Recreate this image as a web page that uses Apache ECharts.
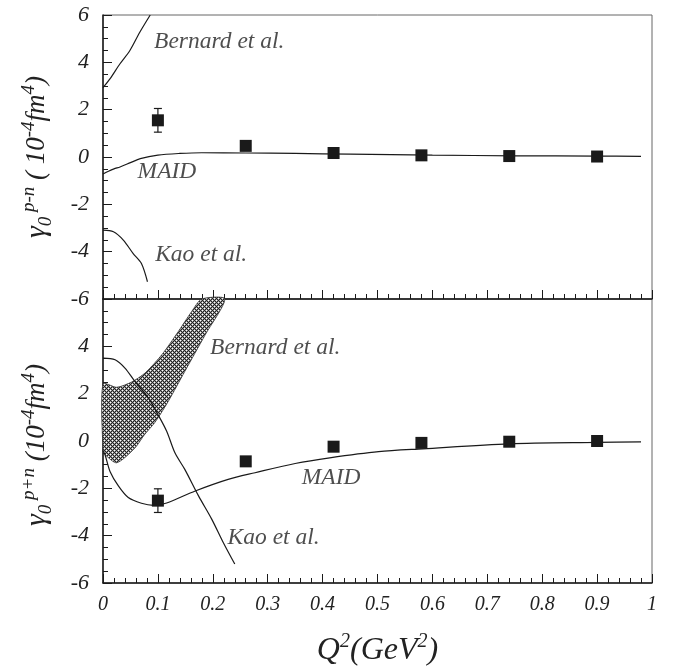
<!DOCTYPE html>
<html>
<head>
<meta charset="utf-8">
<script src="https://cdn.jsdelivr.net/npm/echarts@6/dist/echarts.min.js"></script>
<style>
  html, body { margin: 0; padding: 0; background: #fff; }
  #chart { width: 678px; height: 668px; }
</style>
</head>
<body>
<div id="chart"></div>
<script>
// x axis tick labels
const xTickLabels = ['0', '0.1', '0.2', '0.3', '0.4', '0.5', '0.6', '0.7', '0.8', '0.9', '1'];

// measured points (same Q2 for both panels)
const dataQ2 = [0.1, 0.26, 0.42, 0.58, 0.74, 0.9];
const pnValues = [1.55, 0.47, 0.17, 0.07, 0.04, 0.02];
const pnErrors = [0.5, 0.1, 0.08, 0.08, 0.08, 0.08];
const ppnValues = [-2.52, -0.86, -0.24, -0.08, -0.03, 0.0];
const ppnErrors = [0.5, 0.1, 0.08, 0.08, 0.08, 0.08];

// top panel curves (gamma0 p-n)
const maidPnQ2 = [0, 0.01, 0.02, 0.031, 0.05, 0.068, 0.1, 0.14, 0.18, 0.26, 0.35, 0.45, 0.6, 0.75, 0.9, 0.98];
const maidPnVal = [-0.72, -0.6, -0.5, -0.42, -0.24, -0.07, 0.08, 0.15, 0.18, 0.17, 0.15, 0.12, 0.08, 0.05, 0.04, 0.03];
const bernardPnQ2 = [0, 0.013, 0.031, 0.049, 0.067, 0.086];
const bernardPnVal = [2.93, 3.31, 3.94, 4.5, 5.27, 6.0];
const kaoPnQ2 = [0, 0.019, 0.037, 0.055, 0.07, 0.081];
const kaoPnVal = [-3.09, -3.16, -3.51, -4.08, -4.5, -5.27];

// bottom panel curves (gamma0 p+n)
const maidPpnQ2 = [0, 0.004, 0.013, 0.028, 0.046, 0.07, 0.092, 0.116, 0.168, 0.228, 0.277, 0.35, 0.413, 0.502, 0.583, 0.74, 0.9, 0.98];
const maidPpnVal = [-0.4, -0.6, -1.3, -1.9, -2.39, -2.63, -2.72, -2.62, -2.11, -1.62, -1.34, -0.95, -0.71, -0.45, -0.33, -0.12, -0.06, -0.04];
const kaoPpnQ2 = [0, 0.022, 0.04, 0.058, 0.0825, 0.1, 0.116, 0.131, 0.149, 0.174, 0.198, 0.219, 0.24];
const kaoPpnVal = [3.5, 3.43, 3.08, 2.52, 1.82, 1.12, 0.41, -0.5, -1.2, -2.32, -3.3, -4.29, -5.2];
// Bernard et al. band (upper and lower edges)
const bandUpQ2 = [0, 0.025, 0.052, 0.0765, 0.107, 0.137, 0.1615, 0.18];
const bandUpVal = [2.41, 2.27, 2.49, 2.87, 3.64, 4.62, 5.47, 6.0];
const bandLoQ2 = [0, 0.0036, 0.025, 0.058, 0.075, 0.095, 0.119, 0.149, 0.186, 0.222];
const bandLoVal = [-0.4, -0.57, -0.92, -0.3, 0.25, 0.8, 1.68, 2.94, 4.48, 6.0];

// curve labels: [Q2, value, text]
const topLabels = [[0.093, 4.85, 'Bernard et al.'], [0.063, -0.63, 'MAID'], [0.095, -4.15, 'Kao et al.']];
const bottomLabels = [[0.195, 3.92, 'Bernard et al.'], [0.362, -1.57, 'MAID'], [0.227, -4.08, 'Kao et al.']];

const ink = '#1a1a1a';
const serif = 'Liberation Serif';

const chart = echarts.init(document.getElementById('chart'));

// cross-hatch pattern for the band (diamond net, 4px cell)
const hatch = document.createElement('canvas');
hatch.width = 4;
hatch.height = 4;
const hctx = hatch.getContext('2d');
const img = hctx.createImageData(4, 4);
for (let y = 0; y < 4; y++) {
  for (let x = 0; x < 4; x++) {
    let v = 34;
    if ((x === 0 && y === 0) || (x === 2 && y === 2)) v = 255;
    else if ((x + y) % 2 === 1) v = 150;
    const k = (y * 4 + x) * 4;
    img.data[k] = img.data[k + 1] = img.data[k + 2] = v;
    img.data[k + 3] = 255;
  }
}
hctx.putImageData(img, 0, 0);

const zip = (xs, ys) => xs.map((x, i) => [x, ys[i]]);

const txt = (size, extra) => Object.assign({ fontFamily: serif, fontStyle: 'italic', fontSize: size, color: '#222' }, extra || {});

function xAxisFor(gridIndex, showLabels) {
  return {
    type: 'value', gridIndex: gridIndex, min: 0, max: 1, interval: 0.1,
    axisLine: { show: true, onZero: false, lineStyle: { color: ink, width: 1.5 } },
    axisTick: { show: true, inside: true, length: 9, lineStyle: { color: ink, width: 1 } },
    minorTick: { show: true, splitNumber: 5, length: 5, lineStyle: { color: ink, width: 1 } },
    splitLine: { show: false },
    axisLabel: Object.assign(txt(20), {
      show: showLabels, margin: 12,
      formatter: (v) => xTickLabels[Math.round(v * 10)]
    }),
    name: showLabels ? '{b|Q}{sup|2}{b|(GeV}{sup|2}{b|)}' : '',
    nameLocation: 'middle', nameGap: 49,
    nameTextStyle: {
      rich: {
        b: txt(32, { lineHeight: 38 }),
        sup: txt(20, { lineHeight: 20, verticalAlign: 'top' })
      }
    }
  };
}

function yAxisFor(gridIndex, nameStr, showMax, pad) {
  return {
    type: 'value', gridIndex: gridIndex, min: -6, max: 6, interval: 2,
    axisLine: { show: true, onZero: false, lineStyle: { color: ink, width: 1.5 } },
    axisTick: { show: true, inside: true, length: 9, lineStyle: { color: ink, width: 1 } },
    minorTick: { show: true, splitNumber: 4, length: 5, lineStyle: { color: ink, width: 1 } },
    splitLine: { show: false },
    axisLabel: Object.assign(txt(22), { margin: 14, showMaxLabel: showMax }),
    name: nameStr,
    nameLocation: 'middle', nameGap: 48,
    nameTextStyle: {
      padding: pad,
      rich: {
        g: txt(30, { lineHeight: 36 }),
        b: txt(27, { lineHeight: 36 }),
        sup: txt(19, { lineHeight: 18, verticalAlign: 'top' }),
        sub: txt(19, { lineHeight: 18, verticalAlign: 'bottom' })
      }
    }
  };
}

function curve(name, xs, ys, idx) {
  return {
    name: name, type: 'line', xAxisIndex: idx, yAxisIndex: idx,
    data: zip(xs, ys), showSymbol: false, smooth: 0.3, clip: true,
    lineStyle: { color: ink, width: 1.2 }, z: 3, silent: true
  };
}

function points(xs, ys, idx) {
  return {
    type: 'scatter', xAxisIndex: idx, yAxisIndex: idx,
    data: zip(xs, ys), symbol: 'rect', symbolSize: 12,
    itemStyle: { color: ink, opacity: 1 }, z: 5
  };
}

function errorBars(xs, ys, errs, idx) {
  return {
    type: 'custom', xAxisIndex: idx, yAxisIndex: idx, z: 4,
    data: xs.map((x, i) => [x, ys[i] - errs[i], ys[i] + errs[i]]),
    renderItem: function (params, api) {
      const lo = api.coord([api.value(0), api.value(1)]);
      const hi = api.coord([api.value(0), api.value(2)]);
      const cap = 4;
      const st = { stroke: ink, lineWidth: 1.2 };
      return {
        type: 'group',
        children: [
          { type: 'line', shape: { x1: lo[0], y1: lo[1], x2: hi[0], y2: hi[1] }, style: st },
          { type: 'line', shape: { x1: lo[0] - cap, y1: lo[1], x2: lo[0] + cap, y2: lo[1] }, style: st },
          { type: 'line', shape: { x1: hi[0] - cap, y1: hi[1], x2: hi[0] + cap, y2: hi[1] }, style: st }
        ]
      };
    }
  };
}

function textLabels(list, idx) {
  return {
    type: 'scatter', xAxisIndex: idx, yAxisIndex: idx, symbolSize: 0, z: 6, silent: true,
    data: list.map(d => ({ value: [d[0], d[1]], label: { formatter: d[2] } })),
    label: Object.assign(txt(23.5), { show: true, position: 'right', distance: 0 })
  };
}

const bandSeries = {
  type: 'custom', xAxisIndex: 1, yAxisIndex: 1, z: 2, silent: true,
  data: [[0, 0]],
  renderItem: function (params, api) {
    const pts = [];
    bandUpQ2.forEach((q, i) => pts.push(api.coord([q, bandUpVal[i]])));
    for (let i = bandLoQ2.length - 1; i >= 0; i--) pts.push(api.coord([bandLoQ2[i], bandLoVal[i]]));
    return {
      type: 'polygon',
      shape: { points: pts, smooth: 0.25 },
      style: { fill: { image: hatch, repeat: 'repeat' }, stroke: '#333', lineWidth: 0.8 }
    };
  }
};

const option = {
  animation: false,
  backgroundColor: '#fff',
  grid: [
    { left: 103, top: 15, width: 549, height: 284, show: true, borderColor: '#666', borderWidth: 1 },
    { left: 103, top: 299, width: 549, height: 285, show: true, borderColor: '#666', borderWidth: 1 }
  ],
  xAxis: [xAxisFor(0, false), xAxisFor(1, true)],
  yAxis: [
    yAxisFor(0, '{g|γ}{sub|0}{sup| p-n}{b| ( 10}{sup|-4}{b|fm}{sup|4}{b|)}', true, [0, 0, 0, 0]),
    yAxisFor(1, '{g|γ}{sub|0}{sup| p+n}{b| (10}{sup|-4}{b|fm}{sup|4}{b|)}', false, [0, 8, 0, 0])
  ],
  series: [
    curve('MAID', maidPnQ2, maidPnVal, 0),
    curve('Bernard et al.', bernardPnQ2, bernardPnVal, 0),
    curve('Kao et al.', kaoPnQ2, kaoPnVal, 0),
    errorBars(dataQ2, pnValues, pnErrors, 0),
    points(dataQ2, pnValues, 0),
    textLabels(topLabels, 0),
    bandSeries,
    curve('MAID', maidPpnQ2, maidPpnVal, 1),
    curve('Kao et al.', kaoPpnQ2, kaoPpnVal, 1),
    errorBars(dataQ2, ppnValues, ppnErrors, 1),
    points(dataQ2, ppnValues, 1),
    textLabels(bottomLabels, 1)
  ]
};

chart.setOption(option);
</script>
</body>
</html>
